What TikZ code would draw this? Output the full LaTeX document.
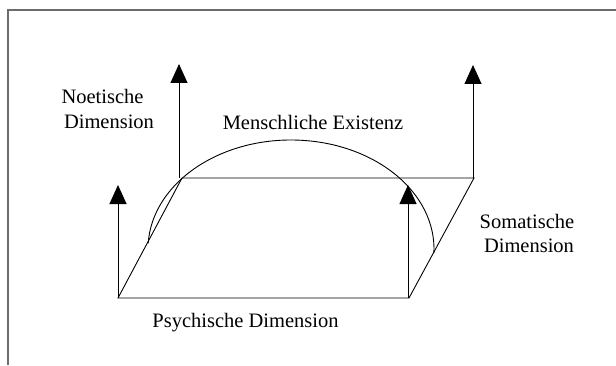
\documentclass[tikz,border=0pt]{standalone}
\usepackage{fontspec}
\setmainfont{Liberation Serif}
\usetikzlibrary{arrows.meta}
\begin{document}
\begin{tikzpicture}[x=1pt,y=1pt,
  axisline/.style={line width=0.9pt,black},
  axisarrow/.style={line width=0.9pt,black,-{Triangle[width=17pt,length=19pt]}},
  framelinestyle/.style={line width=1.8pt,gray!85!black},
  lbl/.style={inner sep=0pt,font=\fontsize{20.5}{26}\selectfont,align=center}]
\useasboundingbox (0,0) rectangle (616,365);
% frame
\coordinate (F1) at (616,355);
\coordinate (F2) at (8,355);
\coordinate (F3) at (8,0);
\draw[framelinestyle] (F1) -- (F2) -- (F3);
% parallelogram corners
\coordinate (BL) at (118,67);
\coordinate (BR) at (409,67);
\coordinate (TR) at (474,187);
\coordinate (TL) at (182,187);
\draw[axisline] (BL) -- (BR) -- (TR) -- (TL) -- cycle;
% arrows
\coordinate (A1s) at (118,67);  \coordinate (A1t) at (118,180);
\coordinate (A2s) at (179,187); \coordinate (A2t) at (179,301);
\coordinate (A3s) at (473,187); \coordinate (A3t) at (473,300);
\coordinate (A4s) at (408,67);  \coordinate (A4t) at (408,180);
\draw[axisarrow] (A1s) -- (A1t);
\draw[axisarrow] (A2s) -- (A2t);
\draw[axisarrow] (A3s) -- (A3t);
\draw[axisarrow] (A4s) -- (A4t);
% half ellipse
\coordinate (E) at (291,116);
\draw[axisline] (E) ++(177:143 and 109) arc[start angle=177,end angle=-2,x radius=143,y radius=109];
% labels
\node[lbl] (noe1) at (102.5,269) {Noetische};
\node[lbl] (noe2) at (109,243) {Dimension};
\node[lbl] (men) at (313,243) {Menschliche Existenz};
\node[lbl] (som1) at (527,144) {Somatische};
\node[lbl] (som2) at (529,119) {Dimension};
\node[lbl] (psy) at (245.5,42) {Psychische Dimension};
\end{tikzpicture}
\end{document}
